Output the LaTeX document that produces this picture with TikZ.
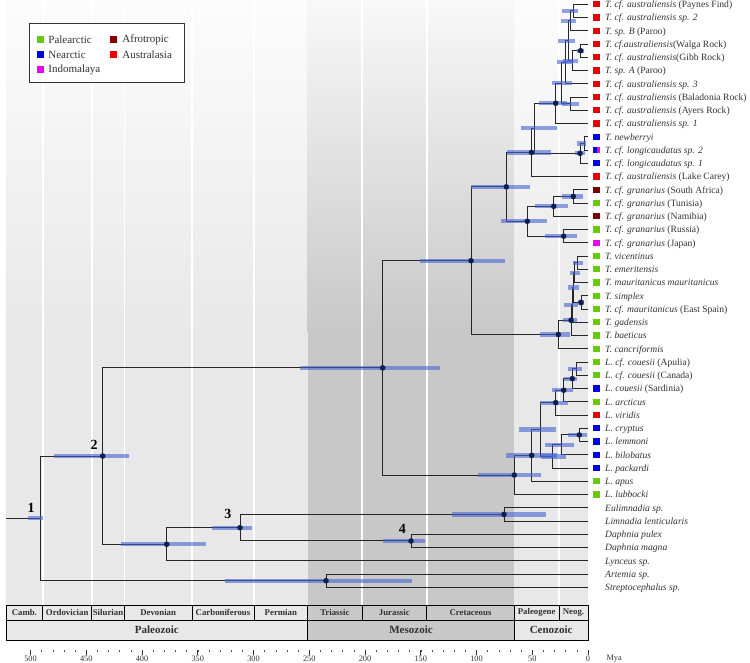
\documentclass[tikz,border=0pt]{standalone}
\usepackage{fontspec}
\setmainfont{Liberation Serif}
\usetikzlibrary{positioning}
\definecolor{palea}{RGB}{102,204,0}
\definecolor{nearc}{RGB}{0,0,230}
\definecolor{indom}{RGB}{240,0,240}
\definecolor{afrot}{RGB}{128,0,0}
\definecolor{austr}{RGB}{235,0,0}
\definecolor{hpdblue}{RGB}{70,100,210}
\definecolor{nodeblue}{RGB}{15,30,80}
\definecolor{paleo}{RGB}{232,232,232}
\definecolor{meso}{RGB}{200,200,200}
\definecolor{txtgrey}{RGB}{50,50,50}

\begin{document}
\begin{tikzpicture}[x=1pt,y=-1pt,
  br/.style={draw=black!85,line width=0.9pt},
  hpd/.style={draw=hpdblue,draw opacity=0.6,line width=4.2pt},
  nd/.style={circle,fill=nodeblue,inner sep=0pt,minimum size=5.6pt},
  sq/.style={fill=#1,inner sep=0pt,minimum size=6.2pt},
  tiplab/.style={anchor=base west,inner sep=0pt,text=txtgrey,font=\fontsize{9.6}{11}\selectfont},
  legtxt/.style={inner sep=0pt,text=txtgrey,font=\fontsize{11}{13}\selectfont},
  perbox/.style={draw=black,line width=0.8pt},
  perlab/.style={text=txtgrey,font=\fontsize{8.8}{10}\selectfont\bfseries},
  eralab/.style={text=txtgrey,font=\fontsize{11}{13}\selectfont\bfseries},
  axlab/.style={text=txtgrey,font=\fontsize{8.3}{10}\selectfont},
  numlab/.style={inner sep=0pt,font=\fontsize{14}{16}\selectfont\bfseries}]
  \useasboundingbox (0,0) rectangle (750,662);

  % background bands
  \foreach \a/\b/\c in {6/307.7/paleo,307.7/514.3/meso,514.3/588/paleo}{
    \shade[top color=\c!12!white,bottom color=\c] (\a,0) rectangle (\b,331);
    \fill[\c] (\a,330) rectangle (\b,605);
  }
  \foreach \x in {42.7,91.7,124.3,192,254,362,426.7,559}
    \draw[white,line width=1.6pt] (\x,0) -- (\x,605);

  % legend
  \node[draw=black!80,line width=0.9pt,fill=white,minimum width=155pt,minimum height=59pt,inner sep=0pt] (legend) at (106.6,52.8) {};
  \node[sq=palea,minimum size=7pt] (kpal) at (40.5,39.5) {};
  \node[legtxt,right=4pt of kpal] (tpal) {Palearctic};
  \node[sq=nearc,minimum size=7pt,below=7.7pt of kpal] (knea) {};
  \node[legtxt,right=4pt of knea] (tnea) {Nearctic};
  \node[sq=indom,minimum size=7pt,below=7.7pt of knea] (kind) {};
  \node[legtxt,right=4pt of kind] (tind) {Indomalaya};
  \node[sq=afrot,minimum size=7pt] (kafr) at (113.5,39.5) {};
  \node[legtxt,right=5pt of kafr] (tafr) {Afrotropic};
  \node[sq=austr,minimum size=7pt,below=7.7pt of kafr] (kaus) {};
  \node[legtxt,right=5pt of kaus] (taus) {Australasia};

  % tips and inner nodes
  \foreach \i in {1,...,45} \coordinate (t\i) at (588,{4.3+(\i-1)*13.25});
  \foreach \n/\x/\y in {
    n12/573.3/10.93, n123/570.5/20.86, n45/580.7/50.68, n456/572.5/60.61,
    n16/568/40.74, n17/565/62.27, n89/570/103.68, nE/561/82.98,
    nC/555.7/103.26, nnb/584/143.43, nD/580/153.36, nB/534/128.31,
    nA/531.5/152.43, nst/573.3/196.43, nstn/553.7/206.36, nrj/563.7/236.18,
    nG/527.3/221.27, nT1/506.3/186.85, nve/577/262.68, nmm/574.5/272.61,
    nse/581/302.43, nsim/573/287.52, ngad/572/304.91, nbae/571/320.23,
    ncan/558.3/334.51, nTC/471/260.68, nac/576.7/368.68, nacs/572.3/378.61,
    nacsa/563.7/390.21, nL3/555.7/402.63, ncl/579.3/434.93, nbil/561.7/444.86,
    nL4/552.3/456.46, nL2/540/429.55, nL1/531.7/455.42, nLC/514.3/474.98,
    nBN/382.7/367.83, nEL/504/514.43, nD4/411/540.93, nN3/240/527.68,
    nNL/166.7/544.24, nN2/102.7/456.03, nAS/326/580.68, nN1/40.7/518.35,
    root/6/518.35}
    \coordinate (\n) at (\x,\y);

  % branches
  \draw[br] (root) -- (nN1);
  \foreach \p/\c in {n12/t1, n12/t2, n123/n12, n123/t3, n45/t4, n45/t5,
    n456/n45, n456/t6, n16/n123, n16/n456, n17/n16, n17/t7, n89/t8, n89/t9,
    nE/n17, nE/n89, nC/nE, nC/t10, nnb/t11, nnb/t12, nD/nnb, nD/t13,
    nB/nC, nB/nD, nA/nB, nA/t14, nst/t15, nst/t16, nstn/nst, nstn/t17,
    nrj/t18, nrj/t19, nG/nstn, nG/nrj, nT1/nA, nT1/nG, nve/t20, nve/t21,
    nmm/nve, nmm/t22, nse/t23, nse/t24, nsim/nmm, nsim/nse, ngad/nsim,
    ngad/t25, nbae/ngad, nbae/t26, ncan/nbae, ncan/t27, nTC/nT1, nTC/ncan,
    nac/t28, nac/t29, nacs/nac, nacs/t30, nacsa/nacs, nacsa/t31, nL3/nacsa,
    nL3/t32, ncl/t33, ncl/t34, nbil/ncl, nbil/t35, nL4/nbil, nL4/t36,
    nL2/nL3, nL2/nL4, nL1/nL2, nL1/t37, nLC/nL1, nLC/t38, nBN/nTC, nBN/nLC,
    nEL/t39, nEL/t40, nD4/t41, nD4/t42, nN3/nEL, nN3/nD4, nNL/nN3, nNL/t43,
    nN2/nBN, nN2/nNL, nAS/t44, nAS/t45, nN1/nN2, nN1/nAS}
    \draw[br] (\p) |- (\c);

  % 95% HPD bars
  \foreach \n/\l/\r in {n12/11.6/5, n123/9.5/5.5, n45/4/3, n456/10/5,
    n16/9.7/7, n17/8/8, n89/8.3/9.3, nE/9.3/10.7, nC/16.7/11.3, nnb/7/1.5,
    nD/5/5, nB/13/22.7, nA/24.8/19.5, nst/11.6/9.4, nstn/18.7/14.6,
    nrj/18.7/13.6, nG/26.6/19.4, nT1/35.3/23.7, nve/4.3/5.7, nmm/4.5/5.5,
    nse/3/3, nsim/5/6, ngad/8/5.7, nbae/8/6, ncan/18.3/11.7, nTC/51/34,
    nac/8.4/5, nacs/8.3/5, nacsa/12/9.6, nL3/15.7/12, ncl/11/7.4,
    nbil/16.7/12.6, nL4/11.3/13.7, nL2/20.7/16, nL1/25.7/25.3, nLC/36/26.4,
    nBN/82.7/57.3, nEL/52.3/41.7, nD4/28.3/14, nAS/101/85.7, nN3/27.7/12.3,
    nNL/45.7/39, nN2/48.7/26.6, nN1/12.7/2.6}
    \draw[hpd] ([xshift=-\l]\n) -- ([xshift=\r]\n);

  % supported nodes
  \foreach \n in {nC,nA,nD,n45,nst,nstn,nrj,nG,nT1,nse,nbae,ncan,nTC,nacs,
    nacsa,nL3,ncl,nL1,nLC,nBN,nEL,nD4,nN3,nNL,nN2,nAS}
    \node[nd] (d\n) at (\n) {};

  % tip labels
  \foreach \i/\c/\t in {
    1/austr/{\textit{T. cf. australiensis} (Paynes Find)},
    2/austr/{\textit{T. cf. australiensis sp. 2}},
    3/austr/{\textit{T. sp. B} (Paroo)},
    4/austr/{\textit{T. cf.australiensis}(Walga Rock)},
    5/austr/{\textit{T. cf. australiensis}(Gibb Rock)},
    6/austr/{\textit{T. sp. A} (Paroo)},
    7/austr/{\textit{T. cf. australiensis sp. 3}},
    8/austr/{\textit{T. cf. australiensis} (Baladonia Rock)},
    9/austr/{\textit{T. cf. australiensis} (Ayers Rock)},
    10/austr/{\textit{T. cf. australiensis sp. 1}},
    11/nearc/{\textit{T. newberryi}},
    12/nearc/{\textit{T. cf. longicaudatus sp. 2}},
    13/nearc/{\textit{T. cf. longicaudatus sp. 1}},
    14/austr/{\textit{T. cf. australiensis} (Lake Carey)},
    15/afrot/{\textit{T. cf. granarius} (South Africa)},
    16/palea/{\textit{T. cf. granarius} (Tunisia)},
    17/afrot/{\textit{T. cf. granarius} (Namibia)},
    18/palea/{\textit{T. cf. granarius} (Russia)},
    19/indom/{\textit{T. cf. granarius} (Japan)},
    20/palea/{\textit{T. vicentinus}},
    21/palea/{\textit{T. emeritensis}},
    22/palea/{\textit{T. mauritanicus mauritanicus}},
    23/palea/{\textit{T. simplex}},
    24/palea/{\textit{T. cf. mauritanicus} (East Spain)},
    25/palea/{\textit{T. gadensis}},
    26/palea/{\textit{T. baeticus}},
    27/palea/{\textit{T. cancriformis}},
    28/palea/{\textit{L. cf. couesii} (Apulia)},
    29/palea/{\textit{L. cf. couesii} (Canada)},
    30/nearc/{\textit{L. couesii} (Sardinia)},
    31/palea/{\textit{L. arcticus}},
    32/austr/{\textit{L. viridis}},
    33/nearc/{\textit{L. cryptus}},
    34/nearc/{\textit{L. lemmoni}},
    35/nearc/{\textit{L. bilobatus}},
    36/nearc/{\textit{L. packardi}},
    37/palea/{\textit{L. apus}},
    38/palea/{\textit{L. lubbocki}}}{
    \node[sq=\c,xshift=8.5pt] (s\i) at (t\i) {};
    \node[tiplab] (l\i) at ([xshift=17pt,yshift=-3.3pt]t\i) {\t};
  }
  \node[sq=indom,minimum width=3.1pt,anchor=west] (s12m) at (s12.center) {};
  \foreach \i/\t in {39/Eulimnadia sp., 40/Limnadia lenticularis,
    41/Daphnia pulex, 42/Daphnia magna, 43/Lynceus sp., 44/Artemia sp.,
    45/Streptocephalus sp.}
    \node[tiplab] (l\i) at ([xshift=17pt,yshift=-3.3pt]t\i) {\textit{\t}};

  % calibration numbers
  \node[numlab,above left=6pt and 6pt of nN1] (cal1) {1};
  \node[numlab,above left=6pt and 5pt of nN2] (cal2) {2};
  \node[numlab,above left=9pt and 8.5pt of nN3] (cal3) {3};
  \node[numlab,above left=7.5pt and 5pt of nD4] (cal4) {4};

  % time scale
  \foreach \a/\b/\c/\t [count=\k] in {6/42.7/paleo/Camb., 42.7/91.7/paleo/Ordovician,
    91.7/124.3/paleo/Silurian, 124.3/192/paleo/Devonian,
    192/254/paleo/Carboniferous, 254/307.7/paleo/Permian,
    307.7/362/meso/Triassic, 362/426.7/meso/Jurassic,
    426.7/514.3/meso/Cretaceous, 514.3/559/paleo/Paleogene, 559/588/paleo/Neog.}{
    \draw[perbox,fill=\c] (\a,605) rectangle (\b,620);
    \node[perlab] (per\k) at ({(\a+\b)/2},612.6) {\t};
  }
  \foreach \a/\b/\c/\t [count=\k] in {6/307.7/paleo/Paleozoic,
    307.7/514.3/meso/Mesozoic, 514.3/588/paleo/Cenozoic}{
    \draw[perbox,fill=\c] (\a,620) rectangle (\b,640);
    \node[eralab] (era\k) at ({(\a+\b)/2},630) {\t};
  }
  \foreach \t in {0,10,...,500}
    \draw[black!70,line width=0.5pt] ({588-1.115*\t},650) -- ++(0,1.8);
  \foreach \t in {0,50,...,500}{
    \draw[black!80,line width=0.8pt] ({588-1.115*\t},650) -- ++(0,4.5);
    \node[axlab] (ax\t) at ({588-1.115*\t},658.5) {\t};
  }
  \node[axlab,anchor=west] (mya) at (603,658.5) {Mya};
\end{tikzpicture}
\end{document}
